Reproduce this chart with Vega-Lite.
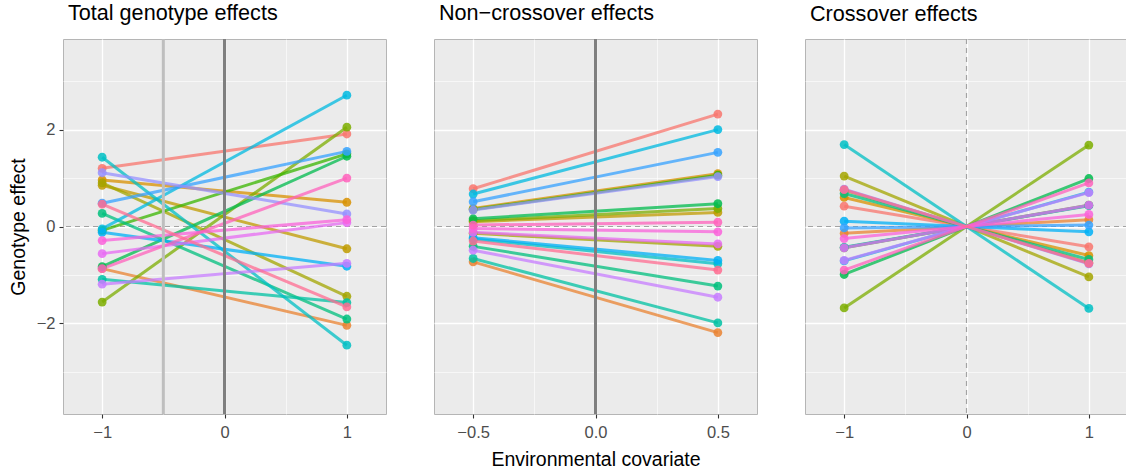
{
  "$schema": "https://vega.github.io/schema/vega-lite/v6.json",
  "padding": {"left": 7, "top": 2, "right": 0, "bottom": 5},
  "config": {
    "font": "Liberation Sans",
    "view": {"fill": "#EBEBEB", "stroke": "#B5B5B5", "strokeWidth": 1},
    "axis": {"domain": false, "gridColor": "#FFFFFF", "tickColor": "#333333", "tickSize": 4, "tickWidth": 1.1, "labelFontSize": 16.5, "labelColor": "#4D4D4D", "labelPadding": 4, "labelOverlap": false, "labelFlush": false, "titleFontSize": 19.5, "titleFontWeight": "normal", "titleColor": "#000000"},
    "axisX": {"labelPadding": 6, "titlePadding": 10},
    "axisY": {"titlePadding": 8},
    "title": {"anchor": "start", "frame": "group", "fontSize": 21.6, "fontWeight": "normal", "color": "#000000", "baseline": "alphabetic", "offset": 13, "dx": 5}
  },
  "datasets": {
    "eff": [
      {"p":"total","g":"G01","x":-1,"y":1.20},{"p":"total","g":"G01","x":1,"y":1.91},
      {"p":"total","g":"G02","x":-1,"y":-0.87},{"p":"total","g":"G02","x":1,"y":-2.04},
      {"p":"total","g":"G03","x":-1,"y":0.96},{"p":"total","g":"G03","x":1,"y":0.50},
      {"p":"total","g":"G04","x":-1,"y":0.85},{"p":"total","g":"G04","x":1,"y":-0.46},
      {"p":"total","g":"G05","x":-1,"y":0.90},{"p":"total","g":"G05","x":1,"y":-1.44},
      {"p":"total","g":"G06","x":-1,"y":-1.56},{"p":"total","g":"G06","x":1,"y":2.05},
      {"p":"total","g":"G07","x":-1,"y":-0.08},{"p":"total","g":"G07","x":1,"y":1.50},
      {"p":"total","g":"G08","x":-1,"y":-0.83},{"p":"total","g":"G08","x":1,"y":1.45},
      {"p":"total","g":"G09","x":-1,"y":0.27},{"p":"total","g":"G09","x":1,"y":-1.91},
      {"p":"total","g":"G10","x":-1,"y":-1.09},{"p":"total","g":"G10","x":1,"y":-1.57},
      {"p":"total","g":"G11","x":-1,"y":1.43},{"p":"total","g":"G11","x":1,"y":-2.45},
      {"p":"total","g":"G12","x":-1,"y":-0.05},{"p":"total","g":"G12","x":1,"y":2.71},
      {"p":"total","g":"G13","x":-1,"y":-0.12},{"p":"total","g":"G13","x":1,"y":-0.82},
      {"p":"total","g":"G14","x":-1,"y":0.48},{"p":"total","g":"G14","x":1,"y":1.55},
      {"p":"total","g":"G15","x":-1,"y":1.11},{"p":"total","g":"G15","x":1,"y":0.26},
      {"p":"total","g":"G16","x":-1,"y":-1.19},{"p":"total","g":"G16","x":1,"y":-0.76},
      {"p":"total","g":"G17","x":-1,"y":-0.56},{"p":"total","g":"G17","x":1,"y":0.08},
      {"p":"total","g":"G18","x":-1,"y":-0.29},{"p":"total","g":"G18","x":1,"y":0.14},
      {"p":"total","g":"G19","x":-1,"y":-0.87},{"p":"total","g":"G19","x":1,"y":1.00},
      {"p":"total","g":"G20","x":-1,"y":0.46},{"p":"total","g":"G20","x":1,"y":-1.66},

      {"p":"nc","g":"G01","x":-0.5,"y":0.78},{"p":"nc","g":"G01","x":0.5,"y":2.32},
      {"p":"nc","g":"G02","x":-0.5,"y":-0.73},{"p":"nc","g":"G02","x":0.5,"y":-2.19},
      {"p":"nc","g":"G03","x":-0.5,"y":0.37},{"p":"nc","g":"G03","x":0.5,"y":1.09},
      {"p":"nc","g":"G04","x":-0.5,"y":0.10},{"p":"nc","g":"G04","x":0.5,"y":0.29},
      {"p":"nc","g":"G05","x":-0.5,"y":-0.14},{"p":"nc","g":"G05","x":0.5,"y":-0.41},
      {"p":"nc","g":"G06","x":-0.5,"y":0.12},{"p":"nc","g":"G06","x":0.5,"y":0.37},
      {"p":"nc","g":"G07","x":-0.5,"y":0.35},{"p":"nc","g":"G07","x":0.5,"y":1.06},
      {"p":"nc","g":"G08","x":-0.5,"y":0.16},{"p":"nc","g":"G08","x":0.5,"y":0.47},
      {"p":"nc","g":"G09","x":-0.5,"y":-0.41},{"p":"nc","g":"G09","x":0.5,"y":-1.23},
      {"p":"nc","g":"G10","x":-0.5,"y":-0.66},{"p":"nc","g":"G10","x":0.5,"y":-1.99},
      {"p":"nc","g":"G11","x":-0.5,"y":-0.26},{"p":"nc","g":"G11","x":0.5,"y":-0.77},
      {"p":"nc","g":"G12","x":-0.5,"y":0.67},{"p":"nc","g":"G12","x":0.5,"y":2.00},
      {"p":"nc","g":"G13","x":-0.5,"y":-0.23},{"p":"nc","g":"G13","x":0.5,"y":-0.70},
      {"p":"nc","g":"G14","x":-0.5,"y":0.51},{"p":"nc","g":"G14","x":0.5,"y":1.53},
      {"p":"nc","g":"G15","x":-0.5,"y":0.34},{"p":"nc","g":"G15","x":0.5,"y":1.03},
      {"p":"nc","g":"G16","x":-0.5,"y":-0.49},{"p":"nc","g":"G16","x":0.5,"y":-1.46},
      {"p":"nc","g":"G17","x":-0.5,"y":-0.12},{"p":"nc","g":"G17","x":0.5,"y":-0.36},
      {"p":"nc","g":"G18","x":-0.5,"y":-0.04},{"p":"nc","g":"G18","x":0.5,"y":-0.11},
      {"p":"nc","g":"G19","x":-0.5,"y":0.03},{"p":"nc","g":"G19","x":0.5,"y":0.09},
      {"p":"nc","g":"G20","x":-0.5,"y":-0.30},{"p":"nc","g":"G20","x":0.5,"y":-0.90},

      {"p":"cross","g":"G01","x":-1,"y":0.42},{"p":"cross","g":"G01","x":1,"y":-0.42},
      {"p":"cross","g":"G02","x":-1,"y":-0.14},{"p":"cross","g":"G02","x":1,"y":0.14},
      {"p":"cross","g":"G03","x":-1,"y":0.60},{"p":"cross","g":"G03","x":1,"y":-0.60},
      {"p":"cross","g":"G04","x":-1,"y":0.75},{"p":"cross","g":"G04","x":1,"y":-0.75},
      {"p":"cross","g":"G05","x":-1,"y":1.04},{"p":"cross","g":"G05","x":1,"y":-1.04},
      {"p":"cross","g":"G06","x":-1,"y":-1.68},{"p":"cross","g":"G06","x":1,"y":1.68},
      {"p":"cross","g":"G07","x":-1,"y":-0.44},{"p":"cross","g":"G07","x":1,"y":0.44},
      {"p":"cross","g":"G08","x":-1,"y":-0.99},{"p":"cross","g":"G08","x":1,"y":0.99},
      {"p":"cross","g":"G09","x":-1,"y":0.68},{"p":"cross","g":"G09","x":1,"y":-0.68},
      {"p":"cross","g":"G10","x":-1,"y":-0.43},{"p":"cross","g":"G10","x":1,"y":0.43},
      {"p":"cross","g":"G11","x":-1,"y":1.69},{"p":"cross","g":"G11","x":1,"y":-1.69},
      {"p":"cross","g":"G12","x":-1,"y":-0.71},{"p":"cross","g":"G12","x":1,"y":0.71},
      {"p":"cross","g":"G13","x":-1,"y":0.11},{"p":"cross","g":"G13","x":1,"y":-0.11},
      {"p":"cross","g":"G14","x":-1,"y":-0.03},{"p":"cross","g":"G14","x":1,"y":0.03},
      {"p":"cross","g":"G15","x":-1,"y":0.77},{"p":"cross","g":"G15","x":1,"y":-0.77},
      {"p":"cross","g":"G16","x":-1,"y":-0.70},{"p":"cross","g":"G16","x":1,"y":0.70},
      {"p":"cross","g":"G17","x":-1,"y":-0.44},{"p":"cross","g":"G17","x":1,"y":0.44},
      {"p":"cross","g":"G18","x":-1,"y":-0.25},{"p":"cross","g":"G18","x":1,"y":0.25},
      {"p":"cross","g":"G19","x":-1,"y":-0.90},{"p":"cross","g":"G19","x":1,"y":0.90},
      {"p":"cross","g":"G20","x":-1,"y":0.76},{"p":"cross","g":"G20","x":1,"y":-0.76}
    ],
    "vref": [
      {"p":"total","kind":"light","x":-0.5},
      {"p":"total","kind":"dark","x":0},
      {"p":"nc","kind":"dark","x":0},
      {"p":"cross","kind":"dashed","x":0}
    ],
    "href": [{"y":0}]
  },
  "spacing": 44,
  "resolve": {"scale": {"x": "independent"}},
  "hconcat": [
    {
      "width": 323, "height": 375,
      "title": {"text": "Total genotype effects"},
      "layer": [
        {
          "data": {"name": "href"},
          "mark": {"type": "rule", "color": "#A3A3A3", "strokeWidth": 1.2, "strokeDash": [5, 4]},
          "encoding": {"y": {"field": "y", "type": "quantitative", "scale": {"domain": [-3.87, 3.87], "nice": false, "zero": false}, "title": "Genotype effect"}}
        },
        {
          "data": {"name": "eff"},
          "transform": [{"filter": "datum.p === 'total'"}],
          "mark": {"type": "line", "strokeWidth": 3, "opacity": 0.75},
          "encoding": {
            "x": {"field": "x", "type": "quantitative", "scale": {"domain": [-1.32, 1.32], "nice": false, "zero": false},
                  "axis": {"title": null, "values": [-1, -0.5, 0, 0.5, 1], "labelExpr": "datum.value % 1 === 0 ? format(datum.value, 'd') : ''",
                           "tickOpacity": {"condition": {"test": "datum.value % 1 !== 0", "value": 0}, "value": 1},
                           "gridWidth": {"condition": {"test": "datum.value % 1 !== 0", "value": 0.6}, "value": 1.3}}},
            "y": {"field": "y", "type": "quantitative", "scale": {"domain": [-3.87, 3.87], "nice": false, "zero": false},
                  "axis": {"title": "Genotype effect", "values": [-3, -2, -1, 0, 1, 2, 3], "labelExpr": "datum.value % 2 === 0 ? format(datum.value, 'd') : ''",
                           "tickOpacity": {"condition": {"test": "datum.value % 2 !== 0", "value": 0}, "value": 1},
                           "gridWidth": {"condition": {"test": "datum.value % 2 !== 0", "value": 0.6}, "value": 1.3}}},
            "color": {"field": "g", "type": "nominal", "legend": null,
                      "scale": {"domain": ["G01","G02","G03","G04","G05","G06","G07","G08","G09","G10","G11","G12","G13","G14","G15","G16","G17","G18","G19","G20"],
                                "range": ["#F8766D","#EA8331","#D89000","#C09B00","#A3A500","#7CAE00","#39B600","#00BB4E","#00BF7D","#00C1A3","#00BFC4","#00BAE0","#00B0F6","#35A2FF","#9590FF","#C77CFF","#E76BF3","#FA62DB","#FF62BC","#FF6C91"]}}
          }
        },
        {
          "data": {"name": "eff"},
          "transform": [{"filter": "datum.p === 'total'"}],
          "mark": {"type": "circle", "size": 78, "opacity": 0.85},
          "encoding": {
            "x": {"field": "x", "type": "quantitative", "scale": {"domain": [-1.32, 1.32], "nice": false, "zero": false}},
            "y": {"field": "y", "type": "quantitative", "scale": {"domain": [-3.87, 3.87], "nice": false, "zero": false}},
            "color": {"field": "g", "type": "nominal", "legend": null}
          }
        },
        {
          "data": {"name": "vref"},
          "transform": [{"filter": "datum.p === 'total' && datum.kind === 'light'"}],
          "mark": {"type": "rule", "color": "#BEBEBE", "strokeWidth": 3},
          "encoding": {"x": {"field": "x", "type": "quantitative", "scale": {"domain": [-1.32, 1.32], "nice": false, "zero": false}}}
        },
        {
          "data": {"name": "vref"},
          "transform": [{"filter": "datum.p === 'total' && datum.kind === 'dark'"}],
          "mark": {"type": "rule", "color": "#7F7F7F", "strokeWidth": 3},
          "encoding": {"x": {"field": "x", "type": "quantitative", "scale": {"domain": [-1.32, 1.32], "nice": false, "zero": false}}}
        }
      ]
    },
    {
      "width": 323, "height": 375,
      "title": {"text": "Non\u2212crossover effects"},
      "layer": [
        {
          "data": {"name": "href"},
          "mark": {"type": "rule", "color": "#A3A3A3", "strokeWidth": 1.2, "strokeDash": [5, 4]},
          "encoding": {"y": {"field": "y", "type": "quantitative", "scale": {"domain": [-3.87, 3.87], "nice": false, "zero": false}, "title": null}}
        },
        {
          "data": {"name": "eff"},
          "transform": [{"filter": "datum.p === 'nc'"}],
          "mark": {"type": "line", "strokeWidth": 3, "opacity": 0.75},
          "encoding": {
            "x": {"field": "x", "type": "quantitative", "scale": {"domain": [-0.66, 0.66], "nice": false, "zero": false},
                  "axis": {"title": "Environmental covariate", "values": [-0.5, -0.25, 0, 0.25, 0.5], "labelExpr": "abs(datum.value) === 0.25 ? '' : format(datum.value, '.1f')",
                           "tickOpacity": {"condition": {"test": "abs(datum.value) === 0.25", "value": 0}, "value": 1},
                           "gridWidth": {"condition": {"test": "abs(datum.value) === 0.25", "value": 0.6}, "value": 1.3}}},
            "y": {"field": "y", "type": "quantitative", "scale": {"domain": [-3.87, 3.87], "nice": false, "zero": false},
                  "axis": {"title": null, "labels": false, "ticks": false, "values": [-3, -2, -1, 0, 1, 2, 3],
                           "gridWidth": {"condition": {"test": "datum.value % 2 !== 0", "value": 0.6}, "value": 1.3}}},
            "color": {"field": "g", "type": "nominal", "legend": null}
          }
        },
        {
          "data": {"name": "eff"},
          "transform": [{"filter": "datum.p === 'nc'"}],
          "mark": {"type": "circle", "size": 78, "opacity": 0.85},
          "encoding": {
            "x": {"field": "x", "type": "quantitative", "scale": {"domain": [-0.66, 0.66], "nice": false, "zero": false}},
            "y": {"field": "y", "type": "quantitative", "scale": {"domain": [-3.87, 3.87], "nice": false, "zero": false}},
            "color": {"field": "g", "type": "nominal", "legend": null}
          }
        },
        {
          "data": {"name": "vref"},
          "transform": [{"filter": "datum.p === 'nc' && datum.kind === 'dark'"}],
          "mark": {"type": "rule", "color": "#7F7F7F", "strokeWidth": 3},
          "encoding": {"x": {"field": "x", "type": "quantitative", "scale": {"domain": [-0.66, 0.66], "nice": false, "zero": false}}}
        }
      ]
    },
    {
      "width": 323, "height": 375,
      "title": {"text": "Crossover effects"},
      "layer": [
        {
          "data": {"name": "href"},
          "mark": {"type": "rule", "color": "#A3A3A3", "strokeWidth": 1.2, "strokeDash": [5, 4]},
          "encoding": {"y": {"field": "y", "type": "quantitative", "scale": {"domain": [-3.87, 3.87], "nice": false, "zero": false}, "title": null}}
        },
        {
          "data": {"name": "vref"},
          "transform": [{"filter": "datum.p === 'cross'"}],
          "mark": {"type": "rule", "color": "#A3A3A3", "strokeWidth": 1.2, "strokeDash": [5, 4]},
          "encoding": {"x": {"field": "x", "type": "quantitative", "scale": {"domain": [-1.32, 1.32], "nice": false, "zero": false}, "title": null}}
        },
        {
          "data": {"name": "eff"},
          "transform": [{"filter": "datum.p === 'cross'"}],
          "mark": {"type": "line", "strokeWidth": 3, "opacity": 0.75},
          "encoding": {
            "x": {"field": "x", "type": "quantitative", "scale": {"domain": [-1.32, 1.32], "nice": false, "zero": false},
                  "axis": {"title": null, "values": [-1, -0.5, 0, 0.5, 1], "labelExpr": "datum.value % 1 === 0 ? format(datum.value, 'd') : ''",
                           "tickOpacity": {"condition": {"test": "datum.value % 1 !== 0", "value": 0}, "value": 1},
                           "gridWidth": {"condition": {"test": "datum.value % 1 !== 0", "value": 0.6}, "value": 1.3}}},
            "y": {"field": "y", "type": "quantitative", "scale": {"domain": [-3.87, 3.87], "nice": false, "zero": false},
                  "axis": {"title": null, "labels": false, "ticks": false, "values": [-3, -2, -1, 0, 1, 2, 3],
                           "gridWidth": {"condition": {"test": "datum.value % 2 !== 0", "value": 0.6}, "value": 1.3}}},
            "color": {"field": "g", "type": "nominal", "legend": null}
          }
        },
        {
          "data": {"name": "eff"},
          "transform": [{"filter": "datum.p === 'cross'"}],
          "mark": {"type": "circle", "size": 78, "opacity": 0.85},
          "encoding": {
            "x": {"field": "x", "type": "quantitative", "scale": {"domain": [-1.32, 1.32], "nice": false, "zero": false}},
            "y": {"field": "y", "type": "quantitative", "scale": {"domain": [-3.87, 3.87], "nice": false, "zero": false}},
            "color": {"field": "g", "type": "nominal", "legend": null}
          }
        }
      ]
    }
  ]
}
